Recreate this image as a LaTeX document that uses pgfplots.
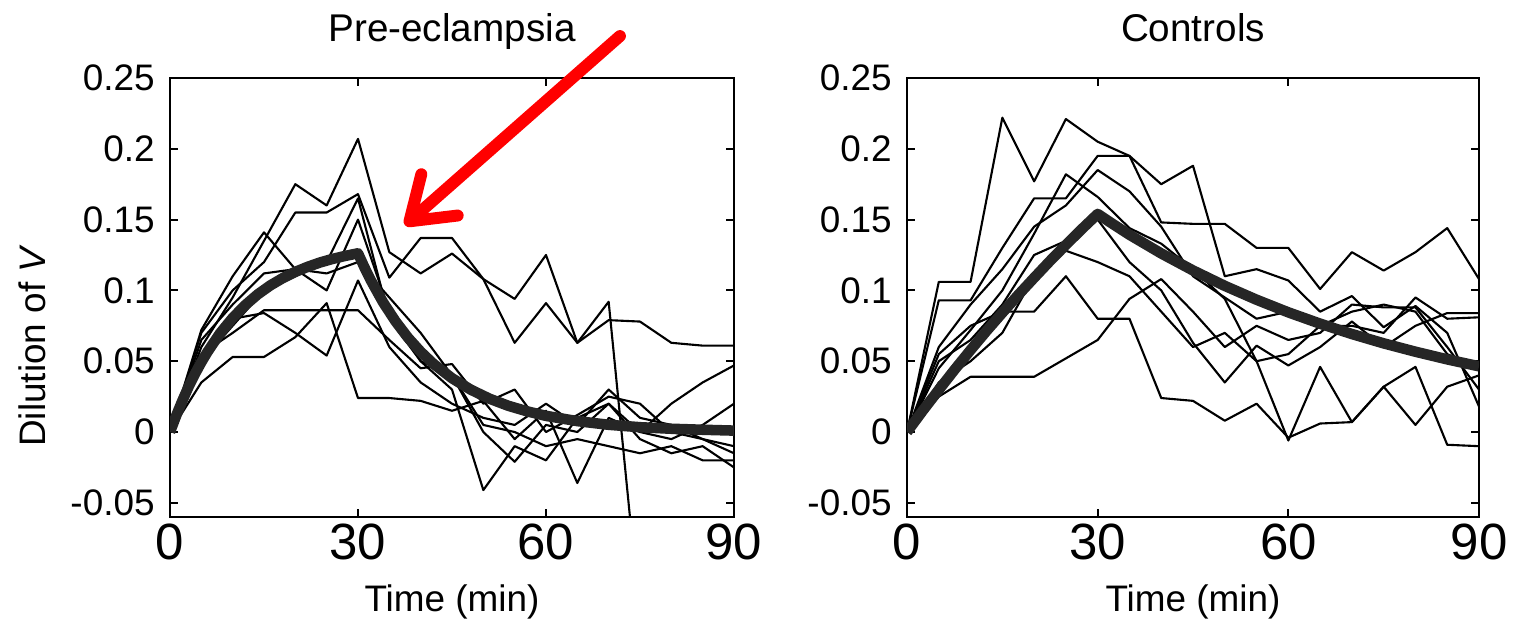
\documentclass[border=0pt]{standalone}
\usepackage{fontspec}
\setmainfont{Liberation Sans}
\usepackage{pgfplots}
\pgfplotsset{compat=1.18}
\usetikzlibrary{arrows.meta}

\pgfplotsset{
  dil/.style={
    scale only axis, height=43.9mm,
    xmin=0, xmax=90, ymin=-0.06, ymax=0.25,
    xtick={0,30,60,90}, xticklabels={0,30,60,90},
    ytick={-0.05,0,0.05,0.1,0.15,0.2,0.25},
    yticklabels={-0.05,0,0.05,0.1,0.15,0.2,0.25},
    tick align=inside, major tick length=0.8mm,
    axis line style={line width=0.8pt},
    every tick/.style={black,line width=0.6pt},
    yticklabel style={font=\fontsize{10.5}{12}\selectfont,anchor=east,xshift=-0.3mm},
    xticklabel style={font=\fontsize{14.5}{16}\selectfont,anchor=base,yshift=-4.3mm},
    title style={font=\fontsize{11}{13}\selectfont,at={(0.5,1)},anchor=base,yshift=1.5mm},
    xlabel style={font=\fontsize{10.5}{12}\selectfont,at={(0.5,0)},anchor=base,yshift=-9.5mm},
    xlabel={Time (min)},
    clip mode=individual,
  },
  ind/.style={black,line width=0.6pt,no markers,line join=round},
  fit/.style={black!85,line width=3pt,no markers,line join=round},
}

\begin{document}
\begin{tikzpicture}
\useasboundingbox (0,0) rectangle (151.6mm,62.2mm);

% pre-eclampsia
\begin{axis}[dil, anchor=south west, at={(17mm,10.5mm)}, width=56.4mm,
  title={Pre-eclampsia},
  ylabel={Dilution of \textit{V}},
  ylabel style={font=\fontsize{10.5}{12}\selectfont,at={(axis description cs:-0.245,0.39)},anchor=center}]
\addplot[ind] coordinates {(0,0)(5,0.060)(10,0.095)(15,0.135)(20,0.175)(25,0.160)(30,0.207)(35,0.127)(40,0.112)(45,0.126)(50,0.108)(55,0.063)(60,0.091)(65,0.063)(70,0.092)(73.4,-0.06)};
\addplot[ind] coordinates {(0,0)(5,0.070)(10,0.100)(15,0.120)(20,0.155)(25,0.155)(30,0.168)(35,0.109)(40,0.137)(45,0.137)(50,0.108)(55,0.094)(60,0.125)(65,0.063)(70,0.079)(75,0.078)(80,0.063)(85,0.061)(90,0.061)};
\addplot[ind] coordinates {(0,0)(5,0.072)(10,0.110)(15,0.141)(20,0.115)(25,0.100)(30,0.150)(35,0.085)(40,0.050)(45,0.030)(50,-0.041)(55,-0.010)(60,-0.020)(65,0.010)(70,0.020)(75,-0.005)(80,-0.015)(85,-0.010)(90,-0.025)};
\addplot[ind] coordinates {(0,0)(5,0.055)(10,0.070)(15,0.086)(20,0.086)(25,0.086)(30,0.086)(35,0.065)(40,0.045)(45,0.048)(50,0.020)(55,0.030)(60,0.000)(65,0.012)(70,0.025)(75,0.020)(80,0.000)(85,-0.005)(90,-0.010)};
\addplot[ind] coordinates {(0,0)(5,0.035)(10,0.053)(15,0.053)(20,0.067)(25,0.091)(30,0.024)(35,0.024)(40,0.022)(45,0.015)(50,0.022)(55,-0.005)(60,0.015)(65,-0.036)(70,0.010)(75,0.000)(80,0.020)(85,0.035)(90,0.047)};
\addplot[ind] coordinates {(0,0)(5,0.050)(10,0.075)(15,0.100)(20,0.110)(25,0.120)(30,0.165)(35,0.080)(40,0.050)(45,0.040)(50,0.005)(55,0.000)(60,-0.010)(65,-0.005)(70,-0.010)(75,-0.015)(80,-0.010)(85,-0.020)(90,-0.020)};
\addplot[ind] coordinates {(0,0)(5,0.065)(10,0.090)(15,0.112)(20,0.115)(25,0.112)(30,0.120)(35,0.095)(40,0.070)(45,0.040)(50,0.000)(55,-0.021)(60,0.005)(65,0.000)(70,0.020)(75,0.000)(80,-0.005)(85,0.005)(90,0.020)};
\addplot[ind] coordinates {(0,0)(5,0.045)(10,0.080)(15,0.084)(20,0.070)(25,0.054)(30,0.107)(35,0.060)(40,0.035)(45,0.020)(50,0.010)(55,0.005)(60,0.020)(65,0.005)(70,0.030)(75,0.010)(80,0.005)(85,-0.005)(90,-0.015)};
% model fit
\addplot[fit] coordinates {(0,0)(1,0.0117)(2,0.0224)(3,0.0323)(4,0.0412)(5,0.0493)(6,0.0567)(8,0.0698)(10,0.0806)(12,0.0896)(14,0.0972)(16,0.1035)(18,0.1087)(20,0.1131)(22,0.1167)(24,0.1198)(26,0.1223)(28,0.1244)(30,0.1262)(31,0.1165)(32,0.1075)(34,0.0916)(36,0.0781)(38,0.0665)(40,0.0567)(42,0.0483)(45,0.0380)(48,0.0299)(51,0.0235)(54,0.0185)(57,0.0146)(60,0.0114)(65,0.0077)(70,0.0051)(75,0.0034)(80,0.0023)(85,0.0016)(90,0.0010)};
% annotation arrow
\draw[red, line width=3.4pt, line cap=round, -{Straight Barb[length=4mm,width=5.5mm,round]}]
  (axis cs:71.8,0.2796) -- (axis cs:37.5,0.146);
\end{axis}

% controls
\begin{axis}[dil, anchor=south west, at={(90.7mm,10.5mm)}, width=57.2mm,
  title={Controls}]
\addplot[ind] coordinates {(0,0)(5,0.106)(10,0.106)(15,0.222)(20,0.177)(25,0.221)(30,0.205)(35,0.195)(40,0.175)(45,0.188)(50,0.110)(55,0.115)(60,0.107)(65,0.085)(70,0.096)(75,0.074)(80,0.089)(85,0.070)(90,0.018)};
\addplot[ind] coordinates {(0,0)(5,0.093)(10,0.093)(15,0.130)(20,0.165)(25,0.165)(30,0.195)(35,0.195)(40,0.148)(45,0.147)(50,0.147)(55,0.130)(60,0.130)(65,0.101)(70,0.127)(75,0.114)(80,0.127)(85,0.144)(90,0.108)};
\addplot[ind] coordinates {(0,0)(5,0.045)(10,0.072)(15,0.100)(20,0.140)(25,0.182)(30,0.166)(35,0.144)(40,0.133)(45,0.115)(50,0.094)(55,0.050)(60,-0.006)(65,0.046)(70,0.007)(75,0.032)(80,0.046)(85,-0.009)(90,-0.010)};
\addplot[ind] coordinates {(0,0)(5,0.025)(10,0.039)(15,0.039)(20,0.039)(25,0.052)(30,0.065)(35,0.094)(40,0.108)(45,0.085)(50,0.060)(55,0.075)(60,0.065)(65,0.070)(70,0.090)(75,0.088)(80,0.088)(85,0.060)(90,0.030)};
\addplot[ind] coordinates {(0,0)(5,0.055)(10,0.075)(15,0.085)(20,0.085)(25,0.110)(30,0.080)(35,0.080)(40,0.024)(45,0.022)(50,0.008)(55,0.020)(60,-0.004)(65,0.006)(70,0.007)(75,0.032)(80,0.005)(85,0.032)(90,0.040)};
\addplot[ind] coordinates {(0,0)(5,0.050)(10,0.065)(15,0.090)(20,0.125)(25,0.135)(30,0.150)(35,0.120)(40,0.100)(45,0.063)(50,0.035)(55,0.061)(60,0.047)(65,0.060)(70,0.078)(75,0.060)(80,0.075)(85,0.084)(90,0.084)};
\addplot[ind] coordinates {(0,0)(5,0.060)(10,0.090)(15,0.115)(20,0.145)(25,0.160)(30,0.185)(35,0.170)(40,0.145)(45,0.110)(50,0.095)(55,0.080)(60,0.085)(65,0.075)(70,0.085)(75,0.090)(80,0.085)(85,0.055)(90,0.045)};
\addplot[ind] coordinates {(0,0)(5,0.035)(10,0.050)(15,0.070)(20,0.110)(25,0.128)(30,0.120)(35,0.110)(40,0.085)(45,0.060)(50,0.070)(55,0.050)(60,0.055)(65,0.075)(70,0.075)(75,0.070)(80,0.095)(85,0.080)(90,0.081)};
% model fit
\addplot[fit] coordinates {(0,0)(2.5,0.0152)(5,0.0298)(7.5,0.0441)(10,0.0579)(12.5,0.0713)(15,0.0842)(17.5,0.0968)(20,0.1089)(22.5,0.1208)(25,0.1322)(27.5,0.1433)(30,0.1540)(32,0.1480)(35,0.1393)(40,0.1261)(45,0.1141)(50,0.1032)(55,0.0934)(60,0.0845)(65,0.0765)(70,0.0692)(75,0.0626)(80,0.0567)(85,0.0513)(90,0.0464)};
\end{axis}
\end{tikzpicture}
\end{document}
